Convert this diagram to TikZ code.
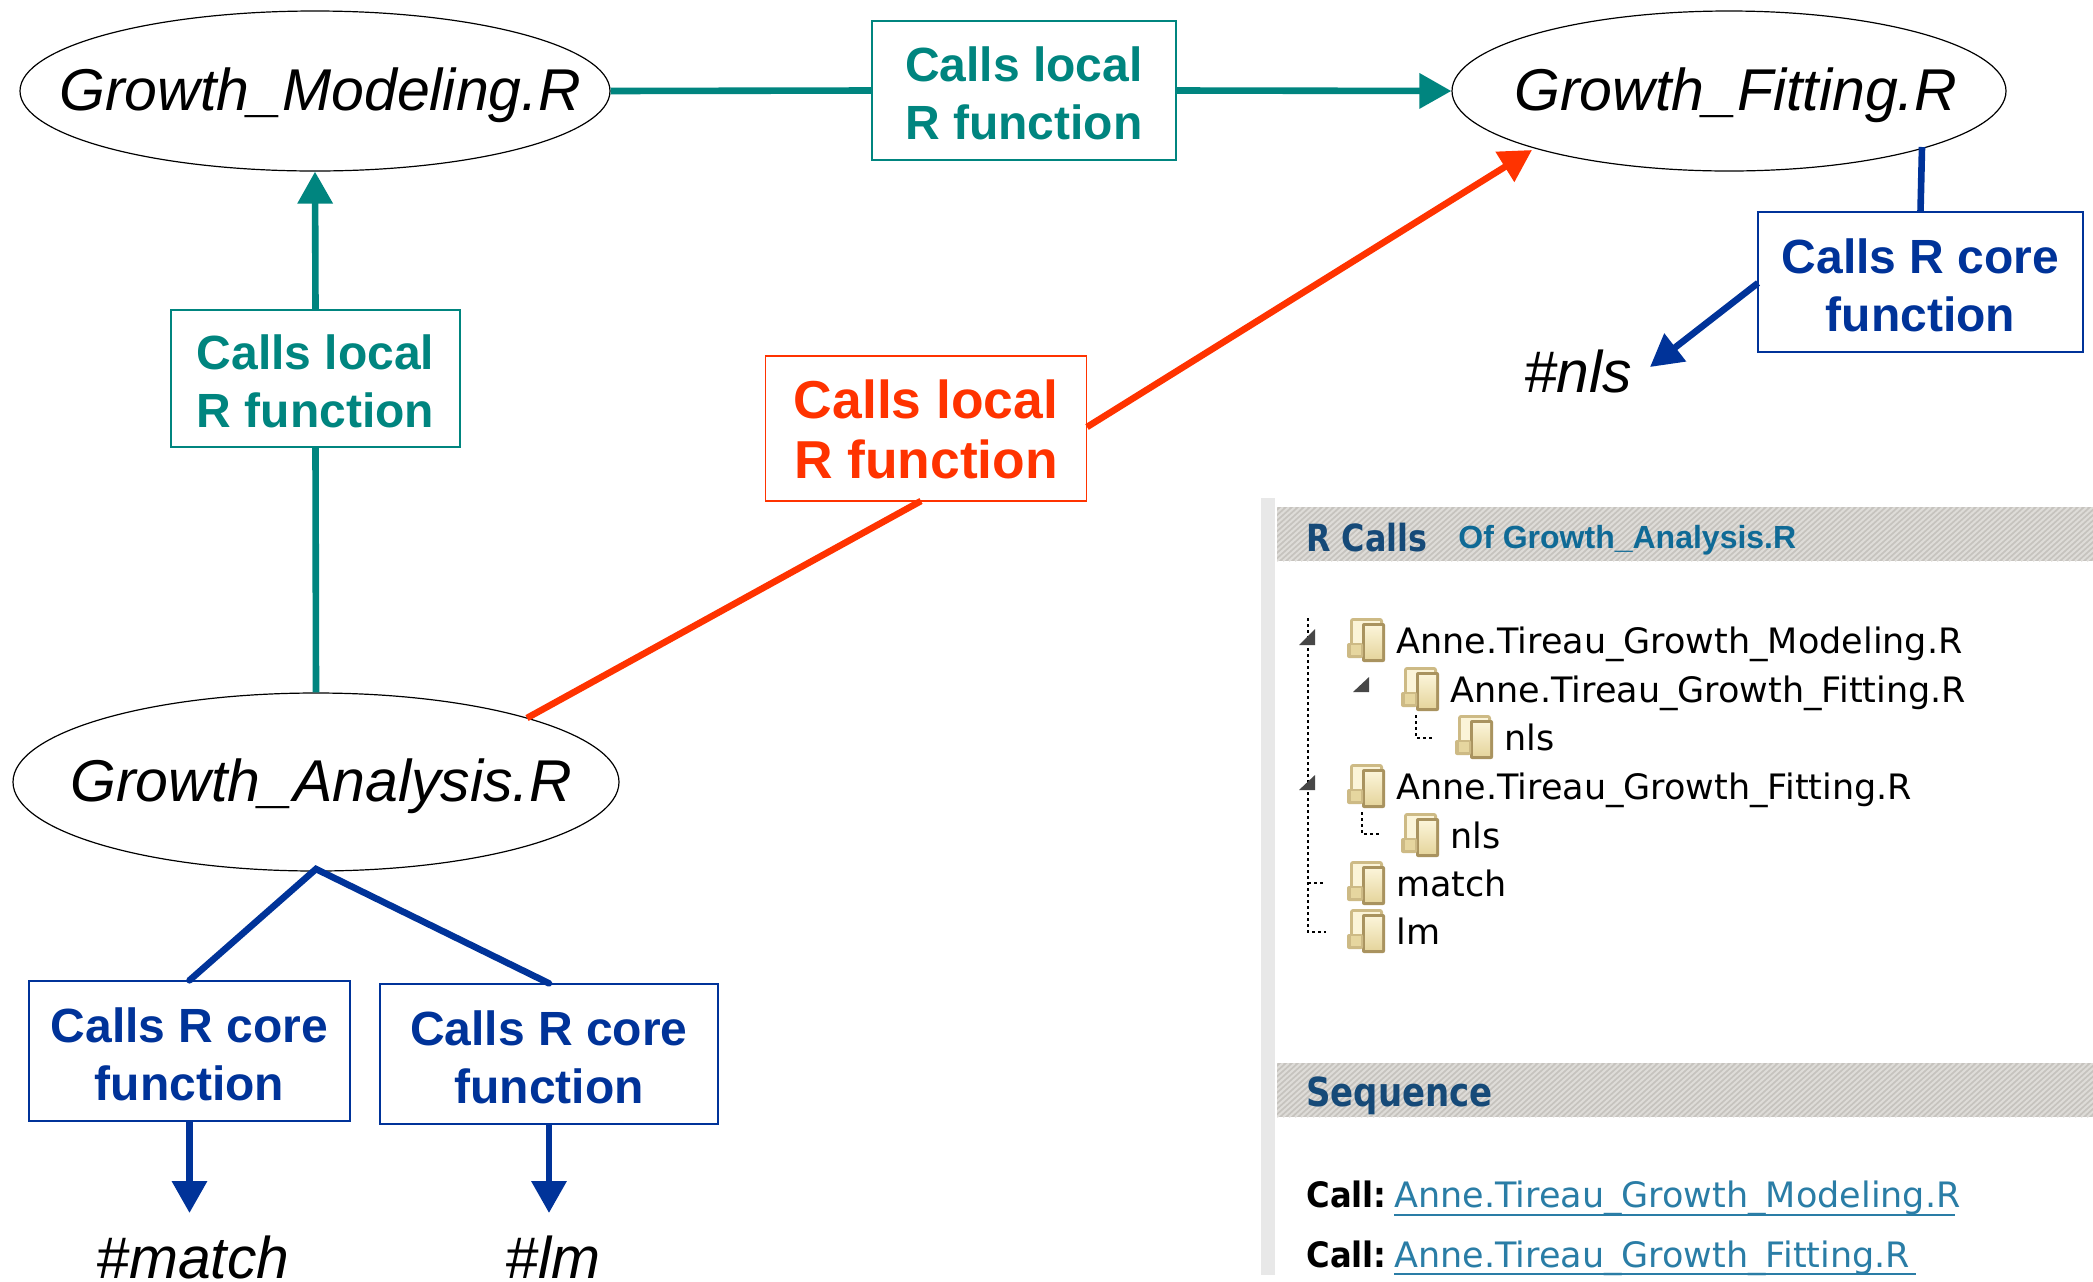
\documentclass[tikz,border=0pt]{standalone}
\usepackage{fontspec}
\setmainfont{Liberation Sans}
\newfontfamily\shotfont{DejaVu Sans}
\newfontfamily\shotbold[FakeStretch=0.92]{DejaVu Sans Bold}
\newfontfamily\shothead[FakeStretch=0.85]{DejaVu Sans Bold}
\usetikzlibrary{arrows.meta,shapes.geometric}
\definecolor{tealc}{HTML}{00857F}
\definecolor{redc}{HTML}{FF3300}
\definecolor{bluec}{HTML}{003399}
\definecolor{headc}{HTML}{164A78}
\definecolor{ofc}{HTML}{0F6A96}
\definecolor{linkc}{HTML}{2A7DA6}
\definecolor{barc}{HTML}{C6C3BE}
\definecolor{barl}{HTML}{DEDCD8}
\definecolor{foldl}{HTML}{FBF4D8}
\definecolor{foldm}{HTML}{E6D69F}
\definecolor{foldb}{HTML}{CDBA85}
\definecolor{foldd}{HTML}{A9935F}
\newcommand{\ellipsetext}[2]{\makebox[0pt]{\hspace*{#1}\raisebox{-2.3pt}[\height][\depth]{#2}}}
\newcommand{\tagtext}[2]{\raisebox{-4.2pt}[\height][\depth]{\begin{tabular}{@{}c@{}}#1\\#2\end{tabular}}}
\tikzset{
  x=0.5pt,y=-0.5pt,
  script/.style={ellipse,draw=black,line width=0.6pt,inner sep=0,font=\itshape\fontsize{29.5}{34}\selectfont},
  calltag/.style={draw=#1,text=#1,line width=0.7pt,inner sep=0,
     font=\bfseries\fontsize{24}{29}\selectfont},
  link/.style={draw=#1,line width=3.3pt},
  flow/.style={draw=#1,line width=3.3pt,-{Triangle[width=17pt,length=16pt]}},
  corefn/.style={inner sep=0,font=\itshape\fontsize{29.4}{36}\selectfont},
  corefnlow/.style={corefn,anchor=base,text depth=0pt},
  tree/.style={anchor=base west,inner sep=0,font=\shotfont\fontsize{17.5}{20}\selectfont},
  treeb/.style={anchor=base west,inner sep=0,font=\shotbold\fontsize{17.5}{20}\selectfont},
  treeh/.style={anchor=base west,inner sep=0,text=headc,font=\shothead\fontsize{#1}{22}\selectfont},
  dots/.style={draw=black,line width=0.9pt,dash pattern=on 1.5pt off 1.5pt},
  expander/.style={fill=black!72,draw=none},
  pics/fldr/.style={code={
    \fill[foldb,rounded corners=1.5pt] (3,0) rectangle (36,39);
    \fill[foldl] (6,3) rectangle (33,36);
    \fill[foldd,rounded corners=1pt] (15,5) rectangle (38,44);
    \shade[top color=foldl,bottom color=foldm] (18,8) rectangle (35,40);
    \fill[foldb,rounded corners=1pt] (0,25) rectangle (16,40);
    \fill[foldm] (4,27) rectangle (14,37);
  }}
}
\begin{document}
\begin{tikzpicture}
\useasboundingbox[fill=white] (0,0) rectangle (2093,1281);

% diagram nodes
\node[script,minimum width=295pt,minimum height=80pt] (gmod) at (315,91) {\ellipsetext{5pt}{Growth\_Modeling.R}};
\node[script,minimum width=277pt,minimum height=80pt] (gfit) at (1729,91) {\ellipsetext{6.5pt}{Growth\_Fitting.R}};
\node[script,minimum width=303pt,minimum height=89pt] (gana) at (316,782) {\ellipsetext{5pt}{Growth\_Analysis.R}};

\node[calltag=tealc,minimum width=152pt,minimum height=69.5pt] (ttop) at (1024,90.5) {\tagtext{Calls local}{R function}};
\node[calltag=tealc,minimum width=144.5pt,minimum height=68.5pt] (tleft) at (315.5,378.5) {\tagtext{Calls local}{R function}};
\node[calltag=redc,minimum width=160.5pt,minimum height=72.5pt,font=\bfseries\fontsize{26.7}{30}\selectfont] (tred) at (926,428.5) {\tagtext{Calls local}{R function}};
\node[calltag=bluec,minimum width=162.5pt,minimum height=70pt] (bfit) at (1920.5,282) {\tagtext{Calls R core}{function}};
\node[calltag=bluec,minimum width=160.5pt,minimum height=70pt] (bmatch) at (189.5,1051) {\tagtext{Calls R core}{function}};
\node[calltag=bluec,minimum width=169pt,minimum height=70pt] (blm) at (549,1054) {\tagtext{Calls R core}{function}};

\node[corefn] (nnls) at (1578,371) {\#nls};
\node[corefnlow] (nmatch) at (193,1278) {\#match};
\node[corefnlow] (nlm) at (553,1278) {\#lm};

% free connector ends on the ellipse outlines and box edges
\coordinate (anaTop) at (527,718);
\coordinate (redIn) at (921,501);
\coordinate (redOut) at (1087,427);
\coordinate (fitIn) at (1532,150);
\coordinate (fitOut) at (1922,147);
\coordinate (bfitOut) at (1758,283);
\coordinate (nlsIn) at (1650,367);
\coordinate (anaBot) at (316,869);
\coordinate (matchTip) at (189.5,1213);
\coordinate (lmTip) at (549,1213);

% connectors
\draw[link=tealc] (gmod.east) -- (ttop.west);
\draw[flow=tealc] (ttop.east) -- (gfit.west);
\draw[link=tealc] (gana.north) -- (tleft.south);
\draw[flow=tealc] (tleft.north) -- (gmod.south);
\draw[link=redc] (anaTop) -- (redIn);
\draw[flow=redc] (redOut) -- (fitIn);
\draw[link=bluec] (fitOut) -- (bfit.north);
\draw[flow=bluec] (bfitOut) -- (nlsIn);
\draw[link=bluec,line cap=round] (bmatch.north) -- (anaBot) -- (blm.north);
\draw[flow=bluec] (bmatch.south) -- (matchTip);
\draw[flow=bluec] (blm.south) -- (lmTip);

% screenshot panel
\fill[black!9] (1261,498) rectangle (1275,1275);
\foreach \ya/\yb in {507/561,1063/1117}{
  \begin{scope}
    \clip (1277,\ya) rectangle (2093,\yb);
    \fill[barc] (1277,\ya) rectangle (2093,\yb);
    \foreach \k in {0,6,...,900}{
      \draw[barl,line width=1pt] ({1277+\k-60},\yb) -- ({1277+\k},\ya);
    }
  \end{scope}
}
\node[treeh=18.7] (hcalls) at (1306,551) {R Calls};
\node[anchor=base west,inner sep=0,text=ofc,font=\bfseries\fontsize{16}{20}\selectfont] (hof) at (1458,548) {Of Growth\_Analysis.R};
\node[treeh=20] (hseq) at (1306,1106) {Sequence};

% tree
\draw[dots] (1308,618) -- (1308,932) -- (1326,932);
\draw[dots] (1308,883) -- (1326,883);
\draw[dots] (1416,715) -- (1416,738) -- (1433,738);
\draw[dots] (1362,812) -- (1362,834) -- (1380,834);
\fill[expander] (1315,629) -- (1315,645) -- (1299,645) -- cycle;
\fill[expander] (1369,677) -- (1369,692) -- (1353,692) -- cycle;
\fill[expander] (1315,775) -- (1315,790) -- (1299,790) -- cycle;

\pic at (1347,618) {fldr};
\pic at (1401,667) {fldr};
\pic at (1455,715) {fldr};
\pic at (1347,764) {fldr};
\pic at (1401,813) {fldr};
\pic at (1347,861) {fldr};
\pic at (1347,909) {fldr};

\node[tree] (t1) at (1396,653) {Anne.Tireau\_Growth\_Modeling.R};
\node[tree] (t2) at (1450,702) {Anne.Tireau\_Growth\_Fitting.R};
\node[tree] (t3) at (1504,750) {nls};
\node[tree] (t4) at (1396,799) {Anne.Tireau\_Growth\_Fitting.R};
\node[tree] (t5) at (1450,848) {nls};
\node[tree] (t6) at (1396,896) {match};
\node[tree] (t7) at (1396,944) {lm};

% sequence
\node[treeb] (c1) at (1306,1207) {Call:};
\node[tree,text=linkc] (l1) at (1394,1207) {Anne.Tireau\_Growth\_Modeling.R};
\draw[linkc,line width=1pt] (1394,1215) -- (1955,1215);
\node[treeb] (c2) at (1306,1267) {Call:};
\node[tree,text=linkc] (l2) at (1394,1267) {Anne.Tireau\_Growth\_Fitting.R};
\draw[linkc,line width=1pt] (1394,1274) -- (1916,1274);
\end{tikzpicture}
\end{document}
